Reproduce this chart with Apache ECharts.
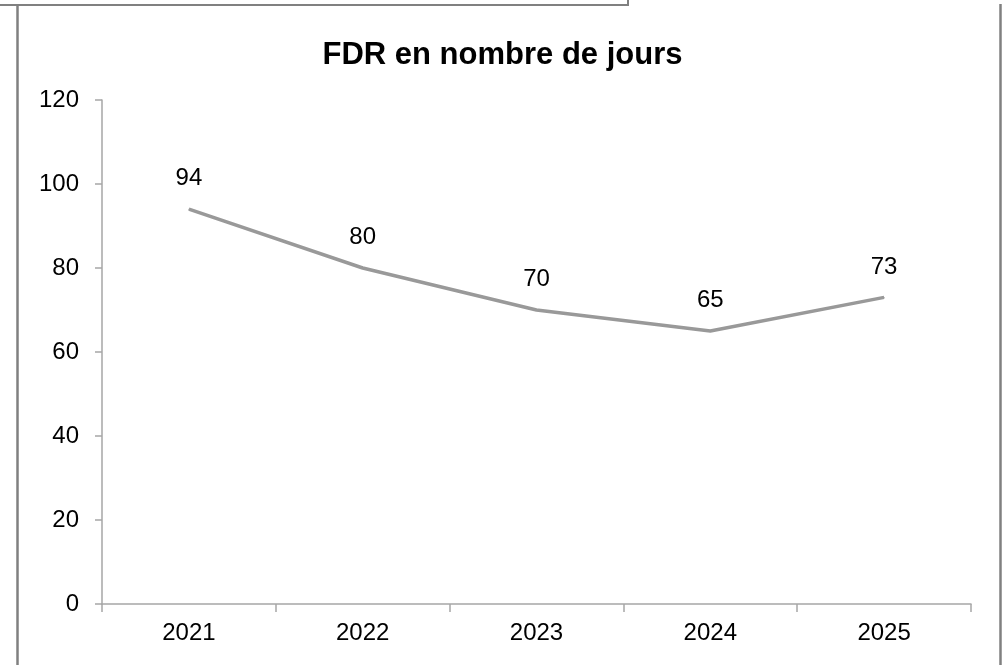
<!DOCTYPE html>
<html>
<head>
<meta charset="utf-8">
<script src="https://cdn.jsdelivr.net/npm/echarts@6/dist/echarts.min.js"></script>
<style>
  html, body { margin: 0; padding: 0; background: #fff; }
  #chart { width: 1005px; height: 665px; }
</style>
</head>
<body>
<div id="chart"></div>
<script>
const years = ['2021', '2022', '2023', '2024', '2025']
const fdrDays = [94, 80, 70, 65, 73]
const yTicks = { min: 0, max: 120, step: 20 }

const chart = echarts.init(document.getElementById('chart'))
const font = 'Liberation Sans, Arial, sans-serif'
const frameColor = '#808080'

chart.setOption({
  backgroundColor: '#fff',
  animation: false,
  title: {
    text: 'FDR en nombre de jours',
    left: 'center',
    top: 35,
    textStyle: { fontFamily: font, fontSize: 31, fontWeight: 'bold', color: '#000' }
  },
  grid: { left: 102, right: 34, top: 100, bottom: 61 },
  xAxis: {
    type: 'category',
    data: years,
    boundaryGap: true,
    axisLine: { lineStyle: { color: '#a6a6a6', width: 1.5 } },
    axisTick: { show: true, length: 8, alignWithLabel: false, lineStyle: { color: '#a6a6a6', width: 1.5 } },
    axisLabel: { margin: 17, fontFamily: font, fontSize: 24, color: '#000' },
    splitLine: { show: false }
  },
  yAxis: {
    type: 'value',
    min: yTicks.min,
    max: yTicks.max,
    interval: yTicks.step,
    axisLine: { show: true, lineStyle: { color: '#a6a6a6', width: 1.5 } },
    axisTick: { show: true, length: 7, lineStyle: { color: '#a6a6a6', width: 1.5 } },
    axisLabel: { margin: 23, fontFamily: font, fontSize: 24, color: '#000' },
    splitLine: { show: false }
  },
  series: [{
    type: 'line',
    data: fdrDays,
    symbol: 'circle',
    symbolSize: 1,
    showSymbol: true,
    itemStyle: { color: '#999' },
    lineStyle: { color: '#999', width: 3.5, cap: 'butt' },
    label: {
      show: true,
      position: 'top',
      distance: 18,
      fontFamily: font,
      fontSize: 24,
      color: '#000'
    }
  }],
  graphic: [
    { type: 'polyline', shape: { points: [[0, 5], [628, 5], [628, 0]] }, style: { stroke: frameColor, lineWidth: 2, fill: null } },
    { type: 'line', shape: { x1: 17.5, y1: 4, x2: 17.5, y2: 665 }, style: { stroke: frameColor, lineWidth: 2.5 } },
    { type: 'line', shape: { x1: 1000.5, y1: 4, x2: 1000.5, y2: 665 }, style: { stroke: frameColor, lineWidth: 2.5 } }
  ]
})
</script>
</body>
</html>
